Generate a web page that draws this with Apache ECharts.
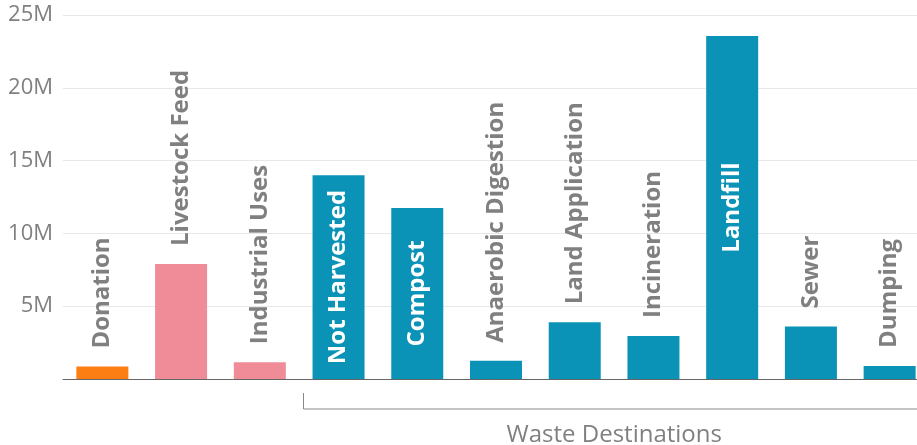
<!DOCTYPE html>
<html>
<head>
<meta charset="utf-8">
<script src="https://cdn.jsdelivr.net/npm/echarts@6/dist/echarts.min.js"></script>
<style>
html,body{margin:0;padding:0;background:#fff;overflow:hidden;}
#chart{width:930px;height:445px;}
</style>
</head>
<body>
<div id="chart"></div>
<script>
const categories = ['Donation','Livestock Feed','Industrial Uses','Not Harvested','Compost','Anaerobic Digestion','Land Application','Incineration','Landfill','Sewer','Dumping'];
const values = [0.85, 7.9, 1.15, 14.0, 11.75, 1.25, 3.9, 2.95, 23.55, 3.6, 0.9];
const groups = ['donation','feed','feed','waste','waste','waste','waste','waste','waste','waste','waste'];
const insideLabel = [false,false,false,true,true,false,false,false,true,false,false];
const yTicks = [0,5,10,15,20,25];
const groupTitle = 'Waste Destinations';
const groupStart = 3;

const colors = {donation:'#fd7f14', feed:'#f08b98', waste:'#0a93b6'};
const FONT = '"Open Sans", sans-serif';

const data = values.map((v,i) => ({
  value: v,
  itemStyle: {color: colors[groups[i]]},
  label: insideLabel[i] ? {
    position: 'inside', rotate: 90, align: 'center', verticalAlign: 'middle',
    color: '#ffffff'
  } : {
    position: 'top', rotate: 90, align: 'left', verticalAlign: 'middle',
    distance: 18, color: '#808080'
  }
}));

const chart = echarts.init(document.getElementById('chart'), null, {renderer:'canvas'});
chart.setOption({
  animation: false,
  grid: {left: 63, width: 866, top: 15, bottom: 66, containLabel: false},
  xAxis: {
    type: 'category', data: categories,
    axisLine: {show: true, lineStyle: {color: '#666', width: 1}},
    axisTick: {show: false}, axisLabel: {show: false}
  },
  yAxis: {
    type: 'value', min: yTicks[0], max: yTicks[yTicks.length-1], interval: 5,
    axisLine: {show: false}, axisTick: {show: false},
    splitLine: {lineStyle: {color: '#e8e8e8', width: 1}},
    axisLabel: {
      margin: 10, color: '#808080', fontSize: 22, fontFamily: FONT,
      formatter: v => v === 0 ? '' : v + 'M'
    }
  },
  series: [{
    type: 'bar', data: data, barWidth: 52,
    label: {show: true, formatter: p => categories[p.dataIndex], fontSize: 24, fontWeight: 'bold', fontFamily: FONT}
  }]
});

const cx = chart.convertToPixel({xAxisIndex: 0}, categories[groupStart]);
const y0 = chart.convertToPixel({yAxisIndex: 0}, 0);
const x0 = Math.round(cx - 26 - 10) + 0.5;
const xEnd = 929;
chart.setOption({
  graphic: [
    {type: 'polyline', shape: {points: [[x0, y0 + 14], [x0, y0 + 30], [xEnd, y0 + 30]]},
     style: {stroke: '#888', lineWidth: 1, fill: null}},
    {type: 'text', x: (x0 + 917) / 2 + 4, y: y0 + 56,
     style: {text: groupTitle, fill: '#808080', font: '24px "Open Sans", sans-serif', textAlign: 'center', textVerticalAlign: 'middle'}}
  ]
});
</script>
</body>
</html>
